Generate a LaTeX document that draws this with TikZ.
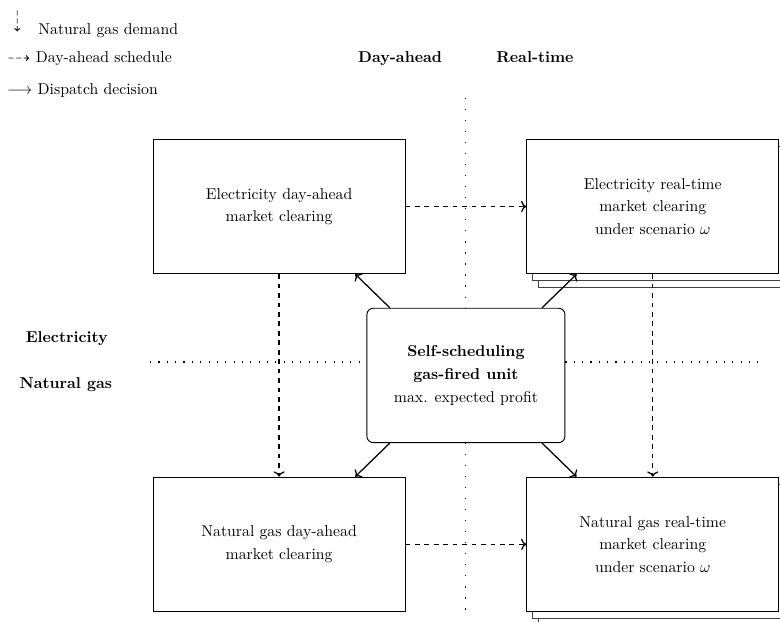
\documentclass[tikz,border=0pt]{standalone}
\usepackage{amsmath}
\usepackage{amssymb}
\usetikzlibrary{
    positioning,
    shadows,
    arrows.meta
}

\begin{document}
\begin{tikzpicture}[
    node distance=3.77cm,
    market/.style={rectangle, draw, semithick, minimum width=5.62cm, minimum height=3cm, align=center, font=\linespread{1.2}\selectfont, fill=white},
    realtime/.style={market, copy shadow={shadow xshift=0.25cm, shadow yshift=-0.31cm, draw=black!75, thin}, copy shadow={shadow xshift=0.125cm, shadow yshift=-0.155cm, draw=black!75, thin}},
    unit/.style={rectangle, draw, semithick, rounded corners=4pt, minimum width=4.42cm, minimum height=3cm, align=center, font=\linespread{1.2}\selectfont, fill=white},
    schedule/.style={->, thick, dashed},
    demand/.style={->, thick, dashed},
    dispatch/.style={->, thick},
    vdivider/.style={line width=0.7pt, dash pattern=on 0.7pt off 6.3pt},
    hdivider/.style={line width=0.7pt, dash pattern=on 0.7pt off 4.6pt},
    heading/.style={anchor=base, font=\bfseries},
    legend/.style={anchor=base west, inner sep=0pt}
]
    \useasboundingbox (-10.40,-5.50) rectangle (7.01,8.38);

    % legend
    \node[inner sep=0pt, rotate=-90] (lgdemandsym) at (-10.02,7.90) {$\dashrightarrow$};
    \node[legend] (lgdemand) at (-9.55,7.62) {Natural gas demand};
    \node[legend] (lgschedule) at (-10.25,6.975) {$\dashrightarrow$ Day-ahead schedule};
    \node[legend] (lgdispatch) at (-10.25,6.28) {$\longrightarrow$ Dispatch decision};

    % headings
    \node[heading] (dahead) at (-1.47,6.975) {Day-ahead};
    \node[heading] (rtime) at (1.54,6.975) {Real-time};
    \node[heading] (elec) at (-8.91,0.725) {Electricity};
    \node[heading] (gas) at (-8.93,-0.30) {Natural gas};

    % boxes
    \node[unit] (unit) {\textbf{Self-scheduling}\\\textbf{gas-fired unit}\\max. expected profit};
    \node[market] (eda) [above of=unit, xshift=-4.17cm] {Electricity day-ahead\\market clearing};
    \node[realtime] (ert) [above of=unit, xshift=4.17cm] {Electricity real-time\\market clearing\\under scenario $\omega$};
    \node[market] (gda) [below of=unit, xshift=-4.17cm] {Natural gas day-ahead\\market clearing};
    \node[realtime] (grt) [below of=unit, xshift=4.17cm] {Natural gas real-time\\market clearing\\under scenario $\omega$};

    % dividers
    \coordinate (timetop) at (0,6.19);
    \coordinate (timebottom) at (0,-5.35);
    \coordinate (divleft) at (-7.05,0.30);
    \coordinate (divright) at (6.52,0.30);
    \draw[vdivider] (timetop) -- (unit.north);
    \draw[vdivider] (unit.south) -- (timebottom);
    \draw[hdivider] (divleft) -- (divleft -| unit.west);
    \draw[hdivider] (divright -| unit.east) -- (divright);

    \draw[schedule] (eda) -- (ert);
    \draw[schedule] (gda) -- (grt);
    \draw[demand] (eda) -- (gda);
    \draw[demand] (ert) -- (grt);
    \draw[dispatch] ([xshift=-1.7cm]unit.north) -- ([xshift=1.7cm]eda.south);
    \draw[dispatch] ([xshift=1.7cm]unit.north) -- ([xshift=-1.7cm]ert.south);
    \draw[dispatch] ([xshift=-1.7cm]unit.south) -- ([xshift=1.7cm]gda.north);
    \draw[dispatch] ([xshift=1.7cm]unit.south) -- ([xshift=-1.7cm]grt.north);
\end{tikzpicture}
\end{document}
